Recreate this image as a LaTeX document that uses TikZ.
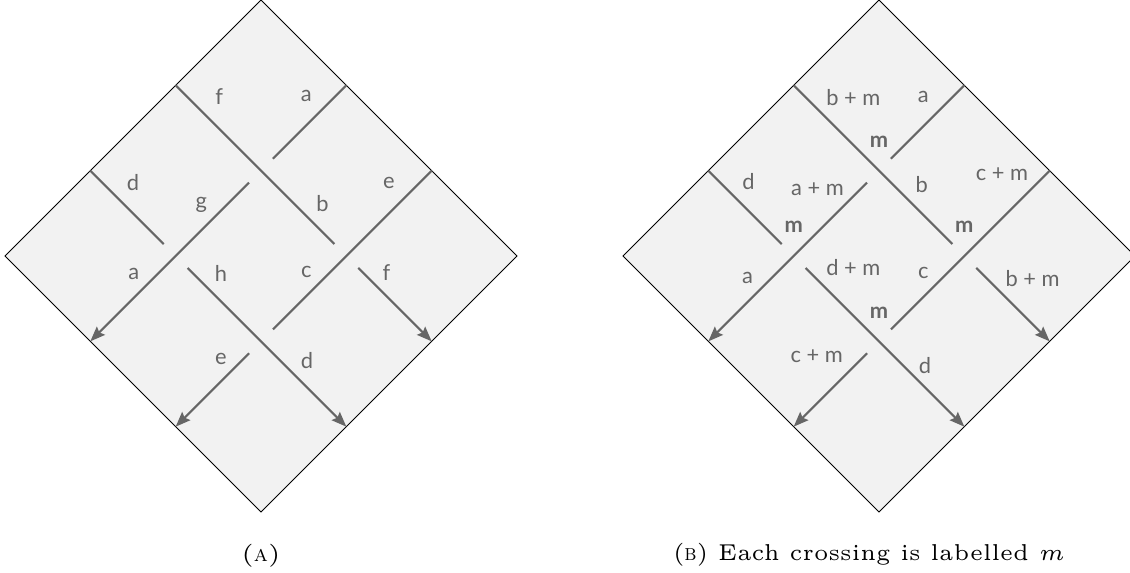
\documentclass[tikz,border=0pt]{standalone}
\usepackage{fontspec}
\newfontfamily\knotfont{Lato}
\usepackage{xcolor}
\usepackage{graphicx}
\usetikzlibrary{arrows.meta}

\definecolor{tilefill}{HTML}{F2F2F2}
\definecolor{strandgray}{HTML}{666666}

% caption text set small, then stretched to the printed width
\newcommand{\capline}[2]{\resizebox{#1}{2\height}{\fontsize{5}{6}\selectfont #2}}

\begin{document}
\begin{tikzpicture}[x=0.435pt,y=-0.435pt,
    tilegrid/.style={shift={(#1,0)}, x={(37.12pt,-37.12pt)}, y={(-37.12pt,-37.12pt)}},
    tile/.style={draw=black, line width=0.45pt, fill=tilefill},
    strand/.style={draw=strandgray, line width=0.9pt},
    flow/.style={strand, -{Stealth[length=6.5pt,width=5pt,inset=1pt]}},
    lbl/.style={text=strandgray, font=\knotfont\fontsize{9.5}{11}\selectfont, inner sep=0pt},
    mlbl/.style={lbl, font=\knotfont\bfseries\fontsize{9.5}{11}\selectfont, yshift=12.6pt},
    captext/.style={anchor=base, inner sep=0pt}]
  \useasboundingbox (0,0) rectangle (1130,573);

  % Tiles and strands (same for both)
  \foreach \d/\top in {A/261,B/879}{
    \begin{scope}[tilegrid=\top]
      \coordinate (\d-n) at (0,0);
      \coordinate (\d-e) at (3,0);
      \coordinate (\d-s) at (3,3);
      \coordinate (\d-w) at (0,3);
      \draw[tile] (\d-n) -- (\d-e) -- (\d-s) -- (\d-w) -- cycle;

      % Strands broken at the crossings
      \foreach \i/\ua/\va/\ub/\vb in {1/0/1/1.86/1, 2/1/0/1/0.86, 3/0/2/0.86/2, 4/2/0/2/1.86}{
        \coordinate (\d-p\i a) at (\ua,\va);
        \coordinate (\d-p\i b) at (\ub,\vb);
        \draw[strand] (\d-p\i a) -- (\d-p\i b);
      }

      % Strands leaving the tile
      \foreach \i/\ua/\va/\ub/\vb in {5/1/1.14/1/3, 6/1.14/2/3/2, 7/2.14/1/3/1, 8/2/2.14/2/3}{
        \coordinate (\d-p\i a) at (\ua,\va);
        \coordinate (\d-p\i b) at (\ub,\vb);
        \draw[flow] (\d-p\i a) -- (\d-p\i b);
      }
    \end{scope}
  }

  % Labels (A)
  \begin{scope}[tilegrid=261]
    \node[lbl] (A-f1) at (0.32,0.81) {f};
    \node[lbl] (A-a1) at (0.83,0.30) {a};
    \node[lbl] (A-d1) at (0.32,1.82) {d};
    \node[lbl] (A-g)  at (0.85,1.55) {g};
    \node[lbl] (A-b)  at (1.55,0.83) {b};
    \node[lbl] (A-e1) at (1.82,0.32) {e};
    \node[lbl] (A-a2) at (0.86,2.35) {a};
    \node[lbl] (A-h)  at (1.37,1.84) {h};
    \node[lbl] (A-c)  at (1.86,1.33) {c};
    \node[lbl] (A-f2) at (2.33,0.86) {f};
    \node[lbl] (A-e2) at (1.87,2.34) {e};
    \node[lbl] (A-d2) at (2.38,1.84) {d};
  \end{scope}

  % Labels (B)
  \begin{scope}[tilegrid=879]
    \node[lbl] (B-bm1) at (0.42,0.72) {b + m};
    \node[lbl] (B-a1)  at (0.83,0.31) {a};
    \node[lbl] (B-d1)  at (0.30,1.83) {d};
    \node[lbl] (B-am)  at (0.75,1.47) {a + m};
    \node[lbl] (B-b)   at (1.33,0.83) {b};
    \node[lbl] (B-cm1) at (1.74,0.30) {c + m};
    \node[lbl] (B-a2)  at (0.86,2.40) {a};
    \node[lbl] (B-dm)  at (1.42,1.72) {d + m};
    \node[lbl] (B-c)   at (1.86,1.34) {c};
    \node[lbl] (B-bm2) at (2.53,0.73) {b + m};
    \node[lbl] (B-cm2) at (1.72,2.45) {c + m};
    \node[lbl] (B-d2)  at (2.41,1.87) {d};
    % crossing marks
    \node[mlbl] (B-m11) at (1,1) {m};
    \node[mlbl] (B-m12) at (1,2) {m};
    \node[mlbl] (B-m21) at (2,1) {m};
    \node[mlbl] (B-m22) at (2,2) {m};
  \end{scope}

  % Captions
  \node[captext] (capA) at (261,561) {\capline{17pt}{(\textsc{a})}};
  \node[captext] (capB) at (869,560) {\capline{170.5pt}{(\textsc{b}) Each crossing is labelled $m$}};
\end{tikzpicture}
\end{document}
